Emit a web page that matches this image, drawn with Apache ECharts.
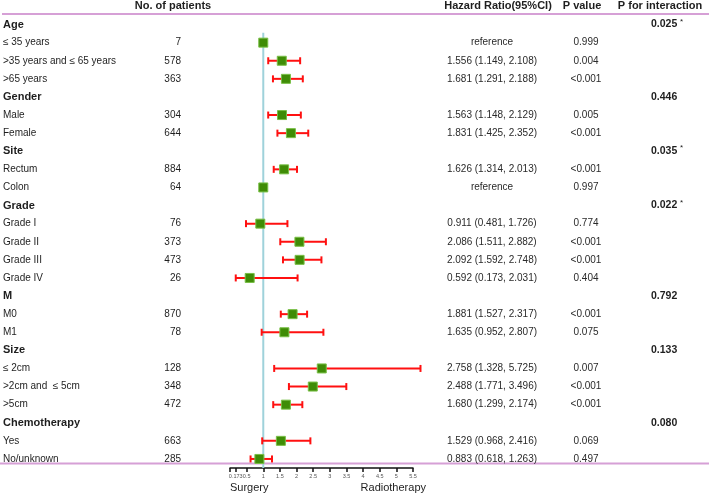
<!DOCTYPE html>
<html><head><meta charset="utf-8">
<script src="https://cdn.jsdelivr.net/npm/echarts@6/dist/echarts.min.js"></script>
<style>html,body{margin:0;padding:0;background:#fff}#c{width:709px;height:495px}</style>
</head><body><div id="c"></div>
<script>
const rowLabels = ['Age','≤ 35 years','>35 years and ≤ 65 years','>65 years','Gender','Male','Female','Site','Rectum','Colon','Grade','Grade I','Grade II','Grade III','Grade IV','M','M0','M1','Size','≤ 2cm','>2cm and  ≤ 5cm','>5cm','Chemotherapy','Yes','No/unknown'];
const isGroup = [1,0,0,0,1,0,0,1,0,0,1,0,0,0,0,1,0,0,1,0,0,0,1,0,0];
const patients = [null,7,578,363,null,304,644,null,884,64,null,76,373,473,26,null,870,78,null,128,348,472,null,663,285];
const hr =     [null,1,1.556,1.681,null,1.563,1.831,null,1.626,1,null,0.911,2.086,2.092,0.592,null,1.881,1.635,null,2.758,2.488,1.680,null,1.529,0.883];
const ciLow =  [null,null,1.149,1.291,null,1.148,1.425,null,1.314,null,null,0.481,1.511,1.592,0.173,null,1.527,0.952,null,1.328,1.771,1.299,null,0.968,0.618];
const ciHigh = [null,null,2.108,2.188,null,2.129,2.352,null,2.013,null,null,1.726,2.882,2.748,2.031,null,2.317,2.807,null,5.725,3.496,2.174,null,2.416,1.263];
const hrText = ['','reference','1.556 (1.149, 2.108)','1.681 (1.291, 2.188)','','1.563 (1.148, 2.129)','1.831 (1.425, 2.352)','','1.626 (1.314, 2.013)','reference','','0.911 (0.481, 1.726)','2.086 (1.511, 2.882)','2.092 (1.592, 2.748)','0.592 (0.173, 2.031)','','1.881 (1.527, 2.317)','1.635 (0.952, 2.807)','','2.758 (1.328, 5.725)','2.488 (1.771, 3.496)','1.680 (1.299, 2.174)','','1.529 (0.968, 2.416)','0.883 (0.618, 1.263)'];
const pValue = ['','0.999','0.004','<0.001','','0.005','<0.001','','<0.001','0.997','','0.774','<0.001','<0.001','0.404','','<0.001','0.075','','0.007','<0.001','<0.001','','0.069','0.497'];
const pInteraction = ['0.025*','','','','0.446','','','0.035*','','','0.022*','','','','','0.792','','','0.133','','','','0.080','',''];
const columnHeaders = ['No. of patients','Hazard Ratio(95%CI)','P value','P for interaction'];
const xTicks = [0,0.173,0.5,1,1.5,2,2.5,3,3.5,4,4.5,5,5.5];
const xTickLabels = [0.173,0.5,1,1.5,2,2.5,3,3.5,4,4.5,5,5.5];
const axisEnds = ['Surgery','Radiotherapy'];

const FONT = '"Liberation Sans", Arial, sans-serif';
const TXT = '#1e1e1e';
const chart = echarts.init(document.getElementById('c'), null, {renderer:'canvas'});

const forestData = hr.map((v,i)=> v==null?null:[v, ciLow[i], ciHigh[i], i]).filter(d=>d);
const rows = rowLabels.map((_,i)=>[0,i]);

function textRender(params, api){
  const i = api.value(1);
  const y = api.coord([0,i])[1];
  const ch = [];
  ch.push({type:'text', x:3, y: y, style:{text: rowLabels[i], font: (isGroup[i]?'bold 11px ':'10px ')+FONT, fill: TXT, textVerticalAlign:'middle', textAlign:'left'}});
  if (patients[i]!=null) ch.push({type:'text', x:181, y:y, style:{text:String(patients[i]), font:'10px '+FONT, fill:TXT, textAlign:'right', textVerticalAlign:'middle'}});
  if (hrText[i]) ch.push({type:'text', x:492, y:y, style:{text:hrText[i], font:'10px '+FONT, fill:'#2a2a2a', textAlign:'center', textVerticalAlign:'middle'}});
  if (pValue[i]) ch.push({type:'text', x:586, y:y, style:{text:pValue[i], font:'10px '+FONT, fill:'#2a2a2a', textAlign:'center', textVerticalAlign:'middle'}});
  if (pInteraction[i]) {
    const star = pInteraction[i].endsWith('*');
    const num = pInteraction[i].replace('*','');
    ch.push({type:'text', x:651, y:y, style:{text:num, font:'bold 10.5px '+FONT, fill:TXT, textAlign:'left', textVerticalAlign:'middle'}});
    if (star) ch.push({type:'text', x:680, y:y-3, style:{text:'*', font:'8px '+FONT, fill:TXT, textAlign:'left', textVerticalAlign:'middle'}});
  }
  return {type:'group', children: ch};
}

function forestRender(params, api){
  const v = api.value(0), i = api.value(3);
  const c = api.coord([v, i]);
  const ch = [];
  if (ciLow[i]!=null && ciHigh[i]!=null) {
    const a = api.coord([api.value(1), i]), b = api.coord([api.value(2), i]);
    const st = {stroke:'#ff1010', lineWidth:2};
    ch.push({type:'line', shape:{x1:a[0], y1:a[1], x2:b[0], y2:b[1]}, style:st});
    ch.push({type:'line', shape:{x1:a[0], y1:a[1]-3.5, x2:a[0], y2:a[1]+3.5}, style:st});
    ch.push({type:'line', shape:{x1:b[0], y1:b[1]-3.5, x2:b[0], y2:b[1]+3.5}, style:st});
  }
  const s = 9;
  ch.push({type:'rect', shape:{x:c[0]-s/2, y:c[1]-s/2, width:s, height:s}, style:{fill:'#3f8c06', stroke:'#78bf46', lineWidth:1}});
  return {type:'group', children: ch};
}

function refRender(params, api){
  const a = api.coord([1, 0.45]), b = api.coord([1, 24.5]);
  return {type:'line', shape:{x1:a[0], y1:a[1], x2:b[0], y2:b[1]}, style:{stroke:'#9fd2db', lineWidth:2}};
}

const option = {
  animation:false,
  backgroundColor:'#fff',
  grid:{left:230, right:296, top:15.5, bottom:27, outerBoundsMode:'none', containLabel:false},
  xAxis:{type:'value', min:0, max:5.5, position:'bottom',
    axisLine:{show:true, onZero:false, lineStyle:{color:'#111', width:1.5}},
    axisTick:{show:true, customValues:xTicks, length:4, lineStyle:{color:'#111', width:1.5}},
    axisLabel:{show:true, customValues:xTickLabels, interval:0, fontSize:5.5, color:'#555', margin:5, fontFamily:FONT, hideOverlap:false, showMinLabel:true, showMaxLabel:true,
      formatter:(v)=>String(v)},
    splitLine:{show:false}},
  yAxis:{type:'value', min:-0.5, max:24.5, inverse:true, show:false},
  graphic:[
    {type:'line', shape:{x1:2, y1:14, x2:709, y2:14}, style:{stroke:'#d6a0d6', lineWidth:2}, z:0},
    {type:'line', shape:{x1:0, y1:463.5, x2:709, y2:463.5}, style:{stroke:'#d6a0d6', lineWidth:2}, z:0},
    {type:'text', x:173, y:6, style:{text:columnHeaders[0], font:'bold 11px '+FONT, fill:TXT, textAlign:'center', textVerticalAlign:'middle'}},
    {type:'text', x:498, y:6, style:{text:columnHeaders[1], font:'bold 11px '+FONT, fill:TXT, textAlign:'center', textVerticalAlign:'middle'}},
    {type:'text', x:582, y:6, style:{text:columnHeaders[2], font:'bold 11px '+FONT, fill:TXT, textAlign:'center', textVerticalAlign:'middle'}},
    {type:'text', x:660, y:6, style:{text:columnHeaders[3], font:'bold 11px '+FONT, fill:TXT, textAlign:'center', textVerticalAlign:'middle'}},
    {type:'text', x:230, y:488, style:{text:axisEnds[0], font:'11px '+FONT, fill:TXT, textAlign:'left', textVerticalAlign:'middle'}},
    {type:'text', x:426, y:488, style:{text:axisEnds[1], font:'11px '+FONT, fill:TXT, textAlign:'right', textVerticalAlign:'middle'}}
  ],
  series:[
    {type:'custom', clip:false, data:[[1,0]], renderItem:refRender, z:1, silent:true},
    {type:'custom', clip:false, data:forestData, renderItem:forestRender, z:3, silent:true,
      encode:{x:[0,1,2], y:3}},
    {type:'custom', clip:false, data:rows, renderItem:textRender, z:4, silent:true, encode:{x:0, y:1}}
  ]
};
chart.setOption(option);
</script></body></html>
